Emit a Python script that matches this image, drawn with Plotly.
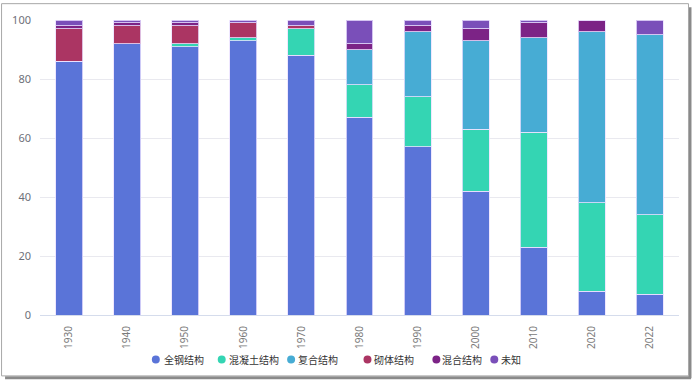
import plotly.graph_objects as go

years = ["1930", "1940", "1950", "1960", "1970", "1980", "1990", "2000", "2010", "2020", "2022"]
steel = [86, 92, 91, 93, 88, 67, 57, 42, 23, 8, 7]
concrete = [0, 0, 1, 1, 9, 11, 17, 21, 39, 30, 27]
composite = [0, 0, 0, 0, 0, 12, 22, 30, 32, 58, 61]
masonry = [11, 6, 6, 5, 1, 0, 0, 0, 0, 0, 0]
mixed = [1, 1, 1, 0, 0, 2, 2, 4, 5, 4, 0]
unknown = [2, 1, 1, 1, 2, 8, 2, 3, 1, 0, 5]

series_names = ["全钢结构", "混凝土结构", "复合结构", "砌体结构", "混合结构", "未知"]
series_values = [steel, concrete, composite, masonry, mixed, unknown]
colors = ["#5a74d8", "#34d5b3", "#47acd4", "#ab3563", "#7c2386", "#7a4fb9"]

W, H = 694, 382
L, R, T, B = 39, 15, 17, 67
pw, ph = W - L - R, H - T - B

def px(x):
    return (x - L) / pw

def py(y):
    return (H - B - y) / ph

fig = go.Figure()
for name, vals, c in zip(series_names, series_values, colors):
    fig.add_trace(go.Bar(
        x=years, y=vals, name=name,
        marker=dict(color=c, line=dict(color="rgba(235,225,255,0.8)", width=1)),
        showlegend=False,
    ))

shapes = []
annotations = []
# manual legend
legend_items = [(155, 162), (221, 227), (290.5, 296.5), (367, 373), (436, 441), (494, 500)]
ly = 360
r = 4
for (cx, tx), name, c in zip(legend_items, series_names, colors):
    shapes.append(dict(type="circle", xref="paper", yref="paper",
                       x0=px(cx - r), x1=px(cx + r), y0=py(ly + r), y1=py(ly - r),
                       fillcolor=c, line=dict(width=0)))
    annotations.append(dict(xref="paper", yref="paper", x=px(tx - 1), y=py(ly),
                            text=name, showarrow=False, xanchor="left", yanchor="middle",
                            font=dict(size=10, color="#333333",
                                      family="Noto Sans CJK SC, sans-serif")))

# frame with shadow
shapes.append(dict(type="line", xref="paper", yref="paper", x0=px(690), x1=px(690),
                   y0=py(4), y1=py(379), line=dict(color="#8a8a8a", width=3)))
shapes.append(dict(type="line", xref="paper", yref="paper", x0=px(4), x1=px(691),
                   y0=py(378.5), y1=py(378.5), line=dict(color="#8a8a8a", width=3)))
shapes.append(dict(type="rect", xref="paper", yref="paper", x0=px(0.5), x1=px(688.5),
                   y0=py(376.5), y1=py(0.5), line=dict(color="#a8a8a8", width=1)))

fig.update_layout(
    width=W, height=H,
    margin=dict(l=L, r=R, t=T, b=B),
    barmode="stack",
    bargap=0.536,
    paper_bgcolor="white",
    plot_bgcolor="white",
    font=dict(family="Noto Sans, Noto Sans CJK SC, sans-serif", color="#6e7079"),
    xaxis=dict(
        type="category",
        tickangle=-90,
        tickfont=dict(size=10, color="#7a7a7a"),
        showgrid=False,
        showline=True, linecolor="#d5dcec", linewidth=1,
        ticks="", ticklabelstandoff=6,
    ),
    yaxis=dict(
        range=[0, 100],
        tickvals=[0, 20, 40, 60, 80, 100],
        tickfont=dict(size=11, color="#6e7079"),
        gridcolor="#e9e9ef", gridwidth=1,
        zeroline=False, showline=False,
        ticklabelstandoff=8,
    ),
    shapes=shapes,
    annotations=annotations,
)

fig.write_html("out.html", config={"displayModeBar": False},
               post_script="document.body.style.margin='0';")
